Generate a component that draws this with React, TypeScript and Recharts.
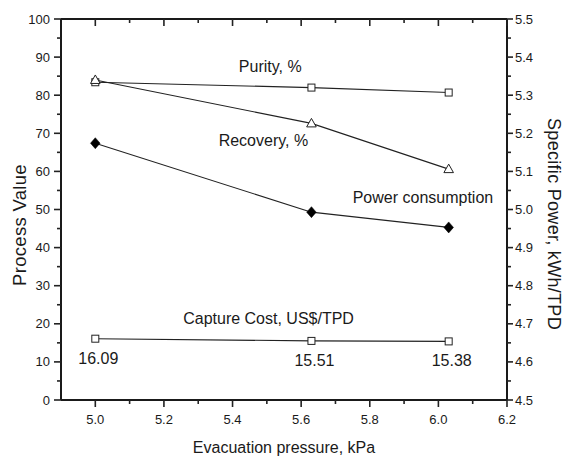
import React from "react";
import {
  LineChart,
  Line,
  XAxis,
  YAxis,
  ReferenceDot,
  LabelList
} from "recharts";

const pressure = [5.0, 5.63, 6.03];
const purity = [83.4, 82.0, 80.7];
const recovery = [84.0, 72.6, 60.6];
const power = [5.174, 4.993, 4.953];
const captureCost = [16.09, 15.51, 15.38];

const xTicks = [5.0, 5.1, 5.2, 5.3, 5.4, 5.5, 5.6, 5.7, 5.8, 5.9, 6.0, 6.1, 6.2];
const xTickLabels = ["5.0", "5.2", "5.4", "5.6", "5.8", "6.0", "6.2"];
const leftTicks = [0, 5, 10, 15, 20, 25, 30, 35, 40, 45, 50, 55, 60, 65, 70, 75, 80, 85, 90, 95, 100];
const leftTickLabels = ["0", "10", "20", "30", "40", "50", "60", "70", "80", "90", "100"];
const rightTicks = [4.5, 4.55, 4.6, 4.65, 4.7, 4.75, 4.8, 4.85, 4.9, 4.95, 5.0, 5.05, 5.1, 5.15, 5.2, 5.25, 5.3, 5.35, 5.4, 5.45, 5.5];
const rightTickLabels = ["4.5", "4.6", "4.7", "4.8", "4.9", "5.0", "5.1", "5.2", "5.3", "5.4", "5.5"];

// text annotations next to each curve, in data coordinates
const notes = [
  { text: "Purity, %", x: 5.51, y: 87.7 },
  { text: "Recovery, %", x: 5.49, y: 68.2 },
  { text: "Power consumption", x: 5.955, y: 53.3 },
  { text: "Capture Cost, US$/TPD", x: 5.505, y: 21.5 }
];

const data = pressure.map((p, i) => ({
  pressure: p,
  purity: purity[i],
  recovery: recovery[i],
  power: power[i],
  cost: captureCost[i]
}));

const FONT = "'Liberation Sans', Arial, sans-serif";
const INK = "#1a1a1a";
const LINE = "#222";
const AXIS = { stroke: "#1a1a1a", strokeWidth: 2 };

const BottomTick = (props: any) => {
  const { x, y, payload } = props;
  const label = Number(payload.value).toFixed(1);
  const major = xTickLabels.includes(label);
  return (
    <g>
      <line x1={x} x2={x} y1={y} y2={y + (major ? 7 : 4)} stroke={LINE} strokeWidth={1.6} />
      {major && (
        <text x={x} y={y + 24} textAnchor="middle" fontSize={13} fontFamily={FONT} fill={INK}>
          {label}
        </text>
      )}
    </g>
  );
};

const TopTick = (props: any) => {
  const { x, y, payload } = props;
  const major = xTickLabels.includes(Number(payload.value).toFixed(1));
  return <line x1={x} x2={x} y1={y} y2={y + (major ? 7 : 4)} stroke={LINE} strokeWidth={1.6} />;
};

const LeftTick = (props: any) => {
  const { x, y, payload } = props;
  const label = String(payload.value);
  const major = leftTickLabels.includes(label);
  return (
    <g>
      <line x1={x} x2={x - (major ? 7 : 4)} y1={y} y2={y} stroke={LINE} strokeWidth={1.6} />
      {major && (
        <text x={x - 11} y={y} dy="0.35em" textAnchor="end" fontSize={13} fontFamily={FONT} fill={INK}>
          {label}
        </text>
      )}
    </g>
  );
};

const RightTick = (props: any) => {
  const { x, y, payload } = props;
  const label = Number(payload.value).toFixed(1);
  const major = rightTickLabels.includes(label) && Math.abs(Number(label) - payload.value) < 1e-6;
  return (
    <g>
      <line x1={x} x2={x + (major ? 6 : 4)} y1={y} y2={y} stroke={LINE} strokeWidth={1.6} />
      {major && (
        <text x={x + 8} y={y} dy="0.35em" textAnchor="start" fontSize={13} fontFamily={FONT} fill={INK}>
          {label}
        </text>
      )}
    </g>
  );
};

const squareDot = (props: any) => (
  <rect
    key={`sq-${props.dataKey}-${props.index}`}
    x={props.cx - 3.5}
    y={props.cy - 3.5}
    width={7}
    height={7}
    fill="#fff"
    stroke={LINE}
    strokeWidth={1}
  />
);

const triangleDot = (props: any) => {
  const { cx, cy } = props;
  return (
    <path
      key={`tri-${props.index}`}
      d={`M${cx},${cy - 5} L${cx + 4.8},${cy + 3.5} L${cx - 4.8},${cy + 3.5} Z`}
      fill="#fff"
      stroke={LINE}
      strokeWidth={1}
    />
  );
};

const diamondDot = (props: any) => {
  const { cx, cy } = props;
  return (
    <path
      key={`dia-${props.index}`}
      d={`M${cx},${cy - 5.5} L${cx + 4.8},${cy} L${cx},${cy + 5.5} L${cx - 4.8},${cy} Z`}
      fill="#000"
      stroke="#000"
      strokeWidth={0.5}
    />
  );
};

const CostLabel = (props: any) => {
  const { x, y, value } = props;
  return (
    <text x={x + 3} y={y + 25} textAnchor="middle" fontSize={16} fontFamily={FONT} fill={INK}>
      {Number(value).toFixed(2)}
    </text>
  );
};

export default function App() {
  return (
    <div style={{ position: "absolute", left: 0, top: 0, background: "#fff" }}>
      <LineChart
        width={567}
        height={460}
        data={data}
        margin={{ top: 0, right: 0, bottom: 0, left: 0 }}
      >
        <XAxis
          xAxisId="bottom"
          dataKey="pressure"
          type="number"
          domain={[4.9, 6.2]}
          ticks={xTicks}
          interval={0}
          allowDataOverflow
          height={60}
          tickSize={0}
          tickMargin={0}
          tick={<BottomTick />}
          axisLine={AXIS}
          label={{
            content: () => (
              <text x={284} y={453} textAnchor="middle" fontSize={16} fontFamily={FONT} fill={INK}>
                Evacuation pressure, kPa
              </text>
            )
          }}
        />
        <XAxis
          xAxisId="top"
          orientation="top"
          dataKey="pressure"
          type="number"
          domain={[4.9, 6.2]}
          ticks={xTicks}
          interval={0}
          allowDataOverflow
          height={19}
          tickSize={0}
          tickMargin={0}
          tick={<TopTick />}
          axisLine={AXIS}
        />
        <YAxis
          yAxisId="left"
          domain={[0, 100]}
          ticks={leftTicks}
          interval={0}
          width={61}
          tickSize={0}
          tickMargin={0}
          tick={<LeftTick />}
          axisLine={AXIS}
          label={{
            content: () => (
              <text
                x={26}
                y={225}
                transform="rotate(-90 26 225)"
                textAnchor="middle"
                fontSize={18.5}
                letterSpacing={0.3}
                fontFamily={FONT}
                fill={INK}
              >
                Process Value
              </text>
            )
          }}
        />
        <YAxis
          yAxisId="right"
          orientation="right"
          domain={[4.5, 5.5]}
          ticks={rightTicks}
          interval={0}
          width={60}
          allowDataOverflow
          tickSize={0}
          tickMargin={0}
          tick={<RightTick />}
          axisLine={AXIS}
          label={{
            content: () => (
              <text
                x={548}
                y={224}
                transform="rotate(90 548 224)"
                textAnchor="middle"
                fontSize={18}
                letterSpacing={0.3}
                fontFamily={FONT}
                fill={INK}
              >
                Specific Power, kWh/TPD
              </text>
            )
          }}
        />

        <Line
          xAxisId="bottom"
          yAxisId="left"
          type="linear"
          dataKey="purity"
          stroke={LINE}
          strokeWidth={1.1}
          dot={squareDot}
          activeDot={false}
          isAnimationActive={false}
        />
        <Line
          xAxisId="bottom"
          yAxisId="left"
          type="linear"
          dataKey="recovery"
          stroke={LINE}
          strokeWidth={1.1}
          dot={triangleDot}
          activeDot={false}
          isAnimationActive={false}
        />
        <Line
          xAxisId="bottom"
          yAxisId="right"
          type="linear"
          dataKey="power"
          stroke={LINE}
          strokeWidth={1.1}
          dot={diamondDot}
          activeDot={false}
          isAnimationActive={false}
        />
        <Line
          xAxisId="bottom"
          yAxisId="left"
          type="linear"
          dataKey="cost"
          stroke={LINE}
          strokeWidth={1.1}
          dot={squareDot}
          activeDot={false}
          isAnimationActive={false}
        >
          <LabelList dataKey="cost" content={<CostLabel />} />
        </Line>

        {notes.map((n) => (
          <ReferenceDot
            key={n.text}
            xAxisId="bottom"
            yAxisId="left"
            x={n.x}
            y={n.y}
            r={0}
            stroke="none"
            fill="none"
            label={{
              value: n.text,
              position: "center",
              fontSize: 16,
              fontFamily: FONT,
              fill: INK
            }}
          />
        ))}
      </LineChart>
    </div>
  );
}
